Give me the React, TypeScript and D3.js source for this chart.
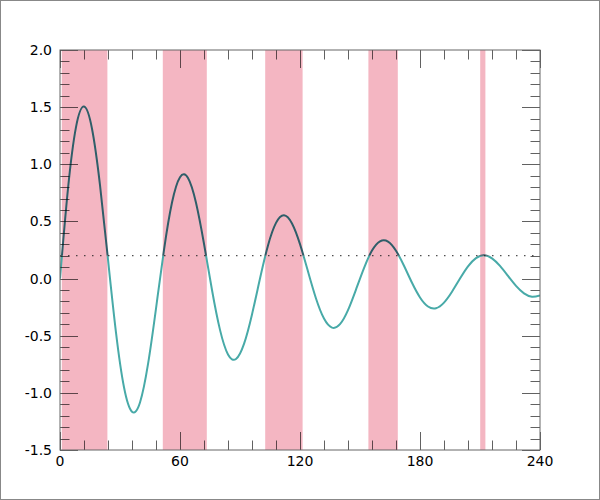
import { useEffect, useRef } from 'react';
import * as d3 from 'd3';

const xValues = [
  0, 4, 8, 12, 16, 20, 24, 28, 32, 36, 40, 44, 48, 52, 56, 60, 64, 68, 72, 76,
  80, 84, 88, 92, 96, 100, 104, 108, 112, 116, 120, 124, 128, 132, 136, 140,
  144, 148, 152, 156, 160, 164, 168, 172, 176, 180, 184, 188, 192, 196, 200,
  204, 208, 212, 216, 220, 224, 228, 232, 236, 240,
];
const yValues = [
  0, 0.787, 1.325, 1.505, 1.311, 0.818, 0.168, -0.473, -0.951, -1.165, -1.084,
  -0.749, -0.262, 0.251, 0.665, 0.887, 0.881, 0.664, 0.305, -0.1, -0.449,
  -0.664, -0.704, -0.572, -0.314, 0, 0.29, 0.487, 0.554, 0.482, 0.301, 0.062,
  -0.174, -0.35, -0.429, -0.399, -0.276, -0.096, 0.092, 0.245, 0.326, 0.324,
  0.244, 0.112, -0.037, -0.165, -0.244, -0.259, -0.21, -0.115, 0, 0.107, 0.179,
  0.204, 0.177, 0.111, 0.023, -0.064, -0.129, -0.158, -0.147,
];

const threshold = 0.2;

// shaded spans where the signal sits above the threshold
const bandStarts = [0.9, 51.4, 102.6, 154.2, 210.1];
const bandEnds = [23.7, 73.4, 121.3, 168.9, 212.7];

const xTicks = [0, 60, 120, 180, 240];
const yTicks = [-1.5, -1.0, -0.5, 0.0, 0.5, 1.0, 1.5, 2.0];

const WIDTH = 600;
const HEIGHT = 500;

export default function App() {
  const svgRef = useRef<SVGSVGElement>(null);

  useEffect(() => {
    if (!svgRef.current) return;
    const svg = d3.select(svgRef.current);
    svg.selectAll('*').remove();

    const margin = { top: 50, right: 60, bottom: 50, left: 60 };
    const innerWidth = WIDTH - margin.left - margin.right;
    const innerHeight = HEIGHT - margin.top - margin.bottom;

    const xScale = d3.scaleLinear().domain([0, 240]).range([0, innerWidth]);
    const yScale = d3.scaleLinear().domain([-1.5, 2.0]).range([innerHeight, 0]);

    // outer frame
    svg
      .append('rect')
      .attr('x', 0.5)
      .attr('y', 0.5)
      .attr('width', WIDTH - 1)
      .attr('height', HEIGHT - 1)
      .attr('fill', '#fff')
      .attr('stroke', '#888');

    const g = svg.append('g').attr('transform', `translate(${margin.left},${margin.top})`);

    const defs = svg.append('defs');
    const yT = yScale(threshold);
    defs
      .append('clipPath')
      .attr('id', 'clip-above')
      .append('rect')
      .attr('x', 0)
      .attr('y', 0)
      .attr('width', innerWidth)
      .attr('height', yT);
    defs
      .append('clipPath')
      .attr('id', 'clip-below')
      .append('rect')
      .attr('x', 0)
      .attr('y', yT)
      .attr('width', innerWidth)
      .attr('height', innerHeight - yT);

    // bands
    g.selectAll('rect.band')
      .data(bandStarts.map((s, i) => [s, bandEnds[i]]))
      .enter()
      .append('rect')
      .attr('class', 'band')
      .attr('x', (d) => xScale(d[0]))
      .attr('y', 0)
      .attr('width', (d) => xScale(d[1]) - xScale(d[0]))
      .attr('height', innerHeight)
      .attr('fill', '#f4b6c2');

    const points: [number, number][] = xValues.map((x, i) => [x, yValues[i]]);
    const line = d3
      .line<[number, number]>()
      .x((d) => xScale(d[0]))
      .y((d) => yScale(d[1]))
      .curve(d3.curveNatural);

    g.append('path')
      .datum(points)
      .attr('clip-path', 'url(#clip-below)')
      .attr('fill', 'none')
      .attr('stroke', '#48aaa8')
      .attr('stroke-width', 2)
      .attr('d', line);

    g.append('path')
      .datum(points)
      .attr('clip-path', 'url(#clip-above)')
      .attr('fill', 'none')
      .attr('stroke', '#2f5e69')
      .attr('stroke-width', 2)
      .attr('d', line);

    // threshold line
    g.append('line')
      .attr('x1', 0)
      .attr('x2', innerWidth)
      .attr('y1', yT)
      .attr('y2', yT)
      .attr('stroke', '#222')
      .attr('stroke-width', 1)
      .attr('stroke-dasharray', '1.5,6.5');

    // ticks on all four sides, pointing inward
    const tickColor = '#000';
    const tickOpacity = 0.62;
    const xMinor = d3.range(0, 241, 12);
    const yMinor = d3.range(-15, 21).map((v) => v / 10);

    xMinor.forEach((v) => {
      const major = v % 60 === 0;
      const len = major ? 18 : 9.5;
      const x = Math.round(xScale(v)) + 0.5;
      [
        [innerHeight, innerHeight - len],
        [0, len],
      ].forEach(([a, b]) => {
        g.append('line')
          .attr('x1', x)
          .attr('x2', x)
          .attr('y1', a)
          .attr('y2', b)
          .attr('stroke', tickColor)
          .attr('stroke-opacity', tickOpacity);
      });
    });

    yMinor.forEach((v) => {
      const major = Math.abs(v * 2 - Math.round(v * 2)) < 1e-6;
      const len = major ? 18 : 9.5;
      const y = Math.round(yScale(v)) + 0.5;
      [
        [0, len],
        [innerWidth, innerWidth - len],
      ].forEach(([a, b]) => {
        g.append('line')
          .attr('x1', a)
          .attr('x2', b)
          .attr('y1', y)
          .attr('y2', y)
          .attr('stroke', tickColor)
          .attr('stroke-opacity', tickOpacity);
      });
    });

    // plot frame
    g.append('rect')
      .attr('x', 0)
      .attr('y', 0)
      .attr('width', innerWidth)
      .attr('height', innerHeight)
      .attr('fill', 'none')
      .attr('stroke', '#666');

    // tick labels
    g.selectAll('text.xlab')
      .data(xTicks)
      .enter()
      .append('text')
      .attr('class', 'xlab')
      .attr('x', (d) => xScale(d))
      .attr('y', innerHeight + 16)
      .attr('text-anchor', 'middle')
      .style('font-family', 'DejaVu Sans, sans-serif')
      .style('font-size', '14px')
      .attr('fill', '#000')
      .text((d) => String(d));

    g.selectAll('text.ylab')
      .data(yTicks)
      .enter()
      .append('text')
      .attr('class', 'ylab')
      .attr('x', -8)
      .attr('y', (d) => yScale(d) + 5)
      .attr('text-anchor', 'end')
      .style('font-family', 'DejaVu Sans, sans-serif')
      .style('font-size', '14px')
      .attr('fill', '#000')
      .text((d) => d.toFixed(1));
  }, []);

  return (
    <svg
      ref={svgRef}
      width={WIDTH}
      height={HEIGHT}
      style={{ position: 'absolute', left: 0, top: 0 }}
    />
  );
}
